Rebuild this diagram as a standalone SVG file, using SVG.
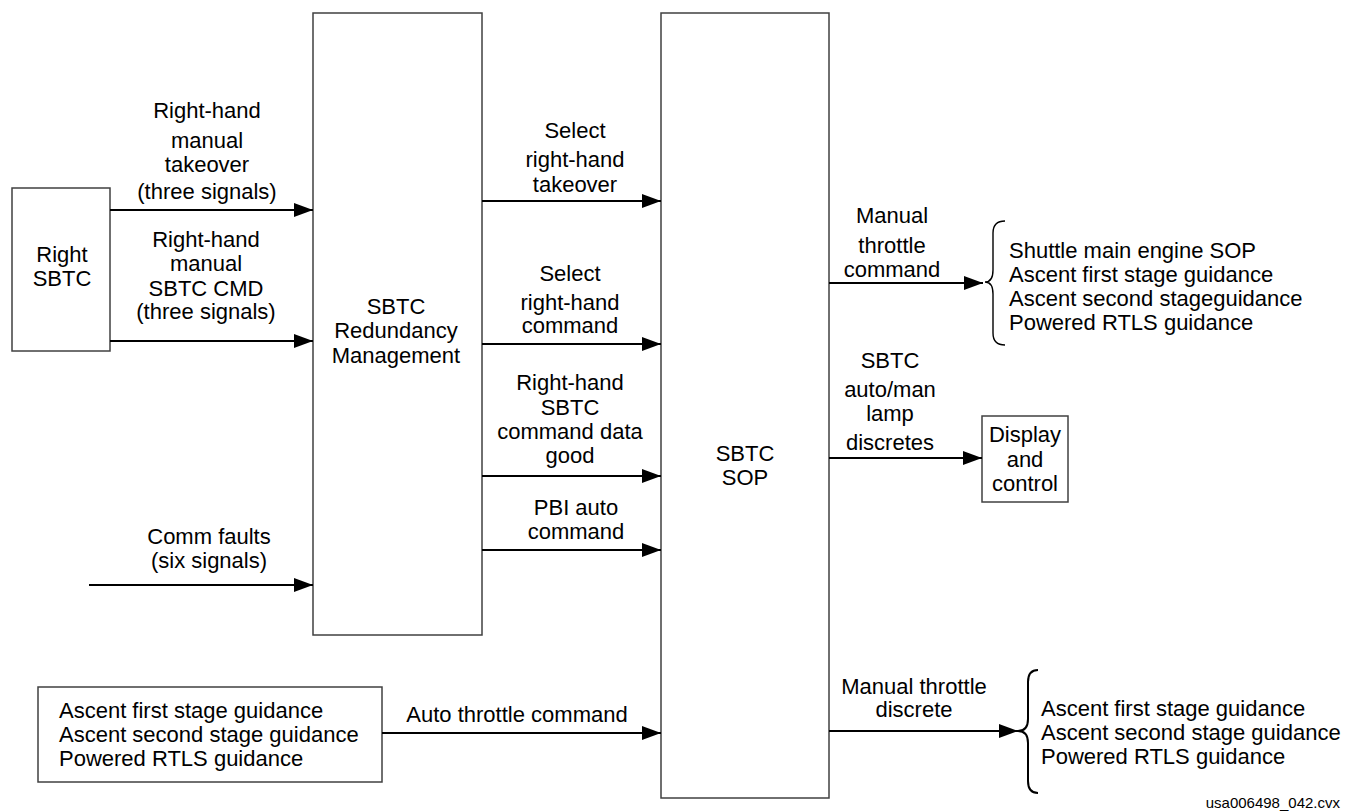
<svg xmlns="http://www.w3.org/2000/svg" width="1358" height="812" viewBox="0 0 1358 812">
<style>
.box{fill:#fff;stroke:#404040;stroke-width:1.5}
.t{font-family:"Liberation Sans",Arial,sans-serif;font-size:22px;fill:#000}
.m{text-anchor:middle}
.c{fill:none;stroke:#000;stroke-width:2.2}
.br{fill:none;stroke:#000;stroke-width:1.4}
.wm{font-family:"Liberation Sans",Arial,sans-serif;font-size:15px;fill:#000;text-anchor:end}
</style>
<defs>
<marker id="ah" markerUnits="userSpaceOnUse" markerWidth="19" markerHeight="14" refX="19" refY="7" orient="auto">
<path d="M0,0 L19,7 L0,14 Z" fill="#000"/>
</marker>
</defs>
<rect width="1358" height="812" fill="#fff"/>

<g id="right-sbtc">
<rect class="box" x="12" y="188" width="98" height="163"/>
<text class="t m" x="62" y="262">Right</text>
<text class="t m" x="62" y="286">SBTC</text>
</g>

<g id="redundancy-mgmt">
<rect class="box" x="313" y="13" width="169" height="622"/>
<text class="t m" x="396" y="314">SBTC</text>
<text class="t m" x="396" y="338">Redundancy</text>
<text class="t m" x="396" y="363">Management</text>
</g>

<g id="sbtc-sop">
<rect class="box" x="661" y="13" width="168" height="785"/>
<text class="t m" x="745" y="461">SBTC</text>
<text class="t m" x="745" y="485">SOP</text>
</g>

<g id="display-control">
<rect class="box" x="982" y="416" width="86" height="86"/>
<text class="t m" x="1025" y="442">Display</text>
<text class="t m" x="1025" y="467">and</text>
<text class="t m" x="1025" y="491">control</text>
</g>

<g id="guidance-source">
<rect class="box" x="38" y="687" width="344" height="95"/>
<text class="t" x="59" y="718">Ascent first stage guidance</text>
<text class="t" x="59" y="742">Ascent second stage guidance</text>
<text class="t" x="59" y="766">Powered RTLS guidance</text>
</g>

<g id="upper-destinations">
<path class="br" d="M1005,221 Q993,221 993,233 L993,270 Q993,282 985,282 Q993,282 993,294 L993,333 Q993,345 1005,345"/>
<text class="t" x="1009" y="258">Shuttle main engine SOP</text>
<text class="t" x="1009" y="282">Ascent first stage guidance</text>
<text class="t" x="1009" y="306">Ascent second stageguidance</text>
<text class="t" x="1009" y="330">Powered RTLS guidance</text>
</g>

<g id="lower-destinations">
<path class="br" style="stroke-width:2" d="M1038,670 Q1028,670 1028,682 L1028,719 Q1028,731 1018,731 Q1028,731 1028,743 L1028,781 Q1028,793 1038,793"/>
<text class="t" x="1041" y="716">Ascent first stage guidance</text>
<text class="t" x="1041" y="740">Ascent second stage guidance</text>
<text class="t" x="1041" y="764">Powered RTLS guidance</text>
</g>

<g id="connectors">
<line class="c" x1="110" y1="210" x2="313" y2="210" marker-end="url(#ah)"/>
<line class="c" x1="110" y1="341" x2="313" y2="341" marker-end="url(#ah)"/>
<line class="c" x1="89" y1="585" x2="313" y2="585" marker-end="url(#ah)"/>
<line class="c" x1="482" y1="201" x2="661" y2="201" marker-end="url(#ah)"/>
<line class="c" x1="482" y1="344" x2="661" y2="344" marker-end="url(#ah)"/>
<line class="c" x1="482" y1="476" x2="661" y2="476" marker-end="url(#ah)"/>
<line class="c" x1="482" y1="550" x2="661" y2="550" marker-end="url(#ah)"/>
<line class="c" x1="382" y1="733" x2="661" y2="733" marker-end="url(#ah)"/>
<line class="c" x1="829" y1="283" x2="983" y2="283" marker-end="url(#ah)"/>
<line class="c" x1="829" y1="458" x2="982" y2="458" marker-end="url(#ah)"/>
<line class="c" x1="829" y1="731" x2="1018" y2="731" marker-end="url(#ah)"/>

<text class="t m" x="207" y="118">Right-hand</text>
<text class="t m" x="207" y="148">manual</text>
<text class="t m" x="207" y="172">takeover</text>
<text class="t m" x="207" y="199">(three signals)</text>

<text class="t m" x="206" y="247">Right-hand</text>
<text class="t m" x="206" y="271">manual</text>
<text class="t m" x="206" y="296">SBTC CMD</text>
<text class="t m" x="206" y="319">(three signals)</text>

<text class="t m" x="209" y="544">Comm faults</text>
<text class="t m" x="209" y="568">(six signals)</text>

<text class="t m" x="575" y="138">Select</text>
<text class="t m" x="575" y="167">right-hand</text>
<text class="t m" x="575" y="192">takeover</text>

<text class="t m" x="570" y="281">Select</text>
<text class="t m" x="570" y="310">right-hand</text>
<text class="t m" x="570" y="333">command</text>

<text class="t m" x="570" y="390">Right-hand</text>
<text class="t m" x="570" y="415">SBTC</text>
<text class="t m" x="570" y="439">command data</text>
<text class="t m" x="570" y="463">good</text>

<text class="t m" x="576" y="515">PBI auto</text>
<text class="t m" x="576" y="539">command</text>

<text class="t m" x="517" y="722">Auto throttle command</text>

<text class="t m" x="892" y="223">Manual</text>
<text class="t m" x="892" y="253">throttle</text>
<text class="t m" x="892" y="277">command</text>

<text class="t m" x="890" y="368">SBTC</text>
<text class="t m" x="890" y="397">auto/man</text>
<text class="t m" x="890" y="421">lamp</text>
<text class="t m" x="890" y="450">discretes</text>

<text class="t m" x="914" y="694">Manual throttle</text>
<text class="t m" x="914" y="717">discrete</text>
</g>

<text class="wm" x="1340" y="808">usa006498_042.cvx</text>
</svg>
